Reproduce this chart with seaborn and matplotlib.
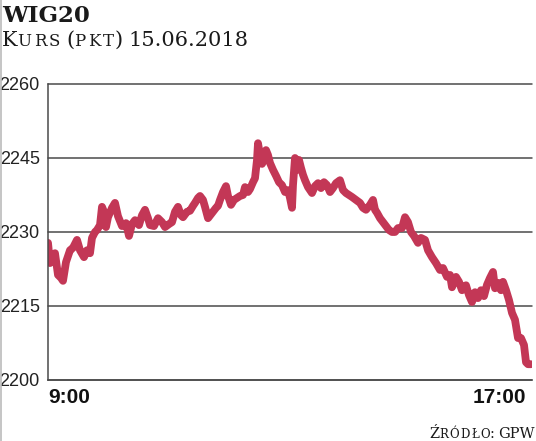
import matplotlib.pyplot as plt
import seaborn as sns
import pandas as pd
from matplotlib.lines import Line2D

# WIG20 intraday, minutes after 9:00 and index level
minutes = [0, 2, 5, 7, 10, 13, 15, 18, 22, 25, 29, 32, 36, 39, 42, 44, 47, 49, 52, 54,
           56, 58, 60, 64, 67, 70, 74, 78, 81, 84, 87, 91, 94, 97, 100, 102, 106, 110, 114, 117,
           121, 124, 127, 130, 133, 135, 139, 142, 145, 147, 150, 152, 155, 157, 160, 163, 165, 168, 170, 172,
           175, 178, 180, 183, 186, 189, 192, 195, 197, 200, 202, 205, 207, 209, 210, 212, 214, 216, 218, 220,
           222, 225, 228, 231, 234, 237, 240, 242, 244, 245, 247, 249, 251, 253, 255, 257, 260, 264, 267, 270,
           273, 276, 279, 282, 285, 288, 292, 295, 298, 301, 304, 308, 312, 315, 318, 322, 325, 327, 329, 332,
           335, 338, 341, 344, 347, 350, 354, 357, 360, 363, 366, 370, 373, 377, 380, 384, 388, 392, 395, 399,
           402, 404, 408, 411, 414, 418, 421, 424, 427, 430, 433, 436, 439, 442, 445, 447, 450, 453, 455, 458,
           461, 464, 467, 470, 473, 476, 478, 480, 483]
kurs = [2227.8, 2223.7, 2225.3, 2225.7, 2221.3, 2220.7, 2220.1, 2223.9, 2226.3, 2226.8,
        2228.4, 2226.3, 2224.9, 2226.3, 2225.7, 2228.8, 2230.0, 2230.4, 2231.4, 2235.1,
        2234.1, 2231.0, 2233.0, 2234.9, 2235.9, 2233.2, 2231.2, 2231.8, 2229.2, 2231.6,
        2232.4, 2231.4, 2233.4, 2234.5, 2232.8, 2231.4, 2231.2, 2232.8, 2232.0, 2231.0,
        2231.6, 2232.0, 2234.1, 2235.1, 2233.4, 2233.0, 2234.1, 2234.3, 2235.3, 2235.9,
        2236.9, 2237.3, 2236.5, 2235.1, 2232.8, 2233.6, 2234.1, 2234.9, 2235.3, 2236.5,
        2238.1, 2239.3, 2237.3, 2235.5, 2236.5, 2236.9, 2237.3, 2237.5, 2239.1, 2238.1,
        2238.7, 2240.1, 2240.9, 2244.6, 2248.0, 2245.6, 2243.8, 2244.6, 2246.6, 2245.6,
        2244.0, 2242.6, 2241.4, 2240.1, 2239.5, 2238.1, 2238.5, 2236.9, 2234.9, 2239.5,
        2245.0, 2242.6, 2244.6, 2243.0, 2241.6, 2240.5, 2239.1, 2237.9, 2239.3, 2239.9,
        2238.9, 2240.1, 2239.5, 2238.1, 2238.9, 2239.9, 2240.5, 2238.5, 2237.9, 2237.5,
        2237.1, 2236.5, 2235.9, 2234.9, 2234.5, 2235.5, 2236.5, 2234.5, 2233.9, 2232.8,
        2232.0, 2231.2, 2230.4, 2230.0, 2230.0, 2230.8, 2230.8, 2233.0, 2232.0, 2230.0,
        2229.2, 2227.8, 2228.8, 2228.4, 2226.3, 2224.9, 2223.7, 2222.3, 2222.7, 2220.9,
        2221.3, 2218.8, 2220.9, 2219.9, 2218.2, 2219.2, 2217.2, 2215.8, 2217.8, 2216.6,
        2218.2, 2217.0, 2219.3, 2220.7, 2221.9, 2218.6, 2219.7, 2218.2, 2219.9, 2218.2,
        2216.2, 2213.6, 2212.2, 2208.5, 2208.5, 2207.1, 2203.6, 2203.2, 2203.2]

y_ticks = [2200, 2215, 2230, 2245, 2260]
x_tick_pos = [0, 451]
x_tick_labels = ["9:00", "17:00"]

sns.set_style("white")
plt.rcParams["font.family"] = ["DejaVu Sans"]

W, H = 536, 441
fig = plt.figure(figsize=(W / 100, H / 100), dpi=100)
ax = fig.add_axes([48 / W, 1 - 380 / H, 484 / W, 296 / H])

df = pd.DataFrame({"minuta": minutes, "kurs": kurs})
sns.lineplot(data=df, x="minuta", y="kurs", ax=ax, color="#C33756", linewidth=5.6,
             solid_capstyle="round", solid_joinstyle="round")

ax.set_xlim(0, 484)
ax.set_ylim(2200, 2260)
ax.set_xlabel("")
ax.set_ylabel("")

grey = "#4a4a4a"
ax.set_yticks(y_ticks)
ax.set_yticklabels([str(v) for v in y_ticks], family=["Liberation Sans", "DejaVu Sans"],
                   fontsize=13, color="#222222")
ax.set_xticks(x_tick_pos)
ax.set_xticklabels(x_tick_labels, family=["Liberation Sans Narrow", "Liberation Sans", "DejaVu Sans"],
                   fontsize=15, fontweight="bold", color="#111111")
ax.get_xticklabels()[0].set_ha("left")
ax.tick_params(axis="y", length=0, pad=6)
ax.tick_params(axis="x", length=0, pad=6)

ax.grid(axis="y", color=grey, linewidth=1.1)
ax.grid(axis="x", visible=False)
for gl in ax.get_ygridlines():
    gl.set_clip_on(False)
for side in ["top", "right"]:
    ax.spines[side].set_visible(False)
for side in ["left", "bottom"]:
    ax.spines[side].set_color(grey)
    ax.spines[side].set_linewidth(1.1)


# small caps emulation: (text, is_small) pieces laid out one after another
def caps_line(parts, x_px, base_px, big, small, align="left", track=1.5):
    r = fig.canvas.get_renderer()
    items = []
    for text, is_small, gap in parts:
        chars = list(text) if is_small else [text]
        for i, c in enumerate(chars):
            t = fig.text(0, 1 - base_px / H, c, fontsize=small if is_small else big,
                         family="DejaVu Serif", va="baseline", color="#1a1a1a")
            w = t.get_window_extent(r).width
            extra = track if is_small and i < len(chars) - 1 else 0
            if i == len(chars) - 1:
                extra += gap
            items.append((t, w + extra))
    total = sum(w for _, w in items)
    pos = x_px if align == "left" else x_px - total
    for t, w in items:
        t.set_x(pos / W)
        pos += w


fig.text(2 / W, 1 - 22 / H, "WIG20", fontsize=16.5, fontweight="bold",
         family="DejaVu Serif", va="baseline", color="#1a1a1a")

caps_line([("K", False, 0), ("URS", True, 6), ("(", False, 0), ("PKT", True, 0),
           (")", False, 6), ("15.06.2018", False, 0)],
          2, 46, big=15, small=12, track=2.5)

caps_line([("Ź", False, 0), ("RÓDŁO", True, 0), (":", False, 4), ("GPW", False, 0)],
          535, 438, big=10.5, small=8.5, align="right", track=1.2)

# thin grey frame edge on the left of the original clipping
fig.add_artist(Line2D([0.001, 0.001], [0, 1], color="#bbbbbb", linewidth=1.2,
                      transform=fig.transFigure))

fig.savefig("out.png", dpi=100)
